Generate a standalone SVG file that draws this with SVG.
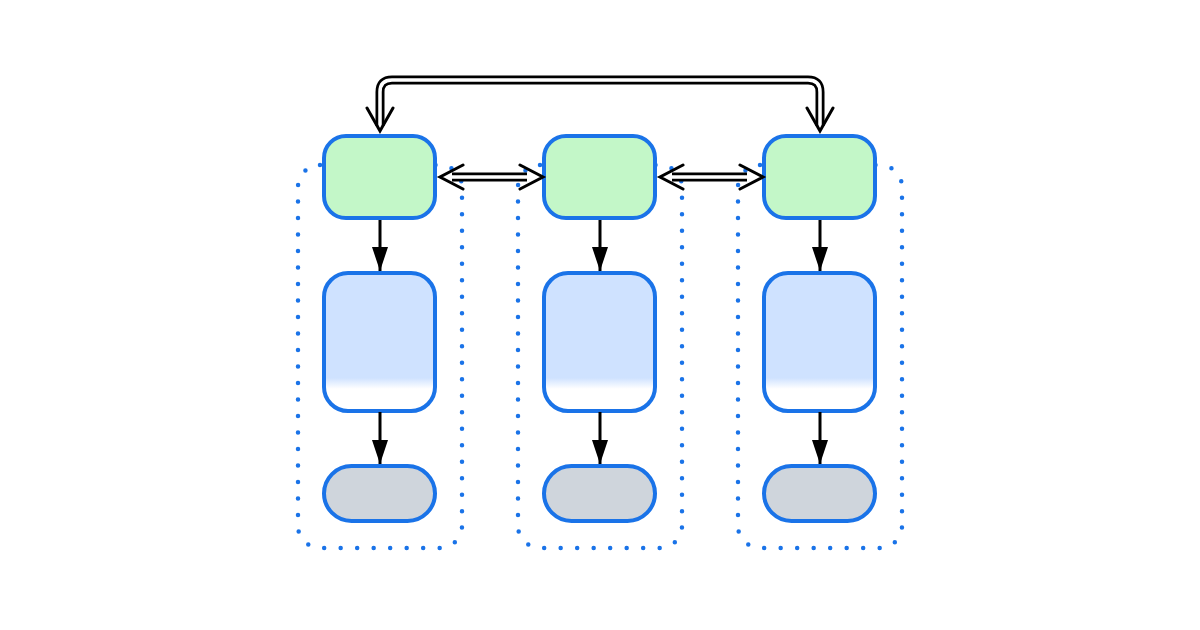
<svg xmlns="http://www.w3.org/2000/svg" width="1200" height="630" viewBox="0 0 1200 630">
<style>
.grp{fill:none;stroke:#1a73e8;stroke-width:4.5;stroke-linecap:round;stroke-dasharray:0 16.5}
.n{stroke:#1a73e8;stroke-width:4}
.top{fill:#c3f7c8}
.mid{fill:url(#g)}
.bot{fill:#cfd5dc}
.ar{stroke:#000;stroke-width:3;fill:none}
.dbo{stroke:#000;stroke-width:9;fill:none}
.dbi{stroke:#fff;stroke-width:3.5;fill:none}
.v{stroke:#000;stroke-width:3;fill:none;stroke-linecap:round}
</style>
<defs>
<linearGradient id="g" x1="0" y1="0" x2="0" y2="1">
<stop offset="0" stop-color="#cfe2ff"/><stop offset="0.76" stop-color="#cfe2ff"/><stop offset="0.84" stop-color="#fff"/><stop offset="1" stop-color="#fff"/>
</linearGradient>
<marker id="fa" viewBox="0 0 24 16" refX="24" refY="8" markerWidth="24" markerHeight="16" markerUnits="userSpaceOnUse" orient="auto">
<path d="M0,0L24,8L0,16z" fill="#000"/>
</marker>
</defs>
<g id="containers">
<rect class="grp" x="298" y="165" width="164" height="383" rx="22"/>
<rect class="grp" x="518" y="165" width="164" height="383" rx="22"/>
<rect class="grp" x="738" y="165" width="164" height="383" rx="22"/>
</g>
<g id="n1a"><rect class="n top" x="324" y="136" width="111" height="82" rx="22"/></g>
<g id="n2a"><rect class="n top" x="544" y="136" width="111" height="82" rx="22"/></g>
<g id="n3a"><rect class="n top" x="764" y="136" width="111" height="82" rx="22"/></g>
<g id="n1b"><rect class="n mid" x="324" y="273" width="111" height="138" rx="24"/></g>
<g id="n2b"><rect class="n mid" x="544" y="273" width="111" height="138" rx="24"/></g>
<g id="n3b"><rect class="n mid" x="764" y="273" width="111" height="138" rx="24"/></g>
<g id="n1c"><rect class="n bot" x="324" y="466" width="111" height="55" rx="27.5"/></g>
<g id="n2c"><rect class="n bot" x="544" y="466" width="111" height="55" rx="27.5"/></g>
<g id="n3c"><rect class="n bot" x="764" y="466" width="111" height="55" rx="27.5"/></g>
<g id="connectors">
<path class="dbo" d="M380,126V92Q380,80 392,80H808Q820,80 820,92V126"/>
<path class="dbi" d="M380,126V92Q380,80 392,80H808Q820,80 820,92V126"/>
<path class="v" d="M367,108L380,131L393,108M807,108L820,131L833,108"/>
<path class="dbo" d="M452,177H527M672,177H747"/>
<path class="dbi" d="M452,177H527M672,177H747"/>
<path class="v" d="M463,165L440,177L463,189M520,165L543,177L520,189M683,165L660,177L683,189M740,165L763,177L740,189"/>
<path class="ar" marker-end="url(#fa)" d="M380,220V271"/>
<path class="ar" marker-end="url(#fa)" d="M600,220V271"/>
<path class="ar" marker-end="url(#fa)" d="M820,220V271"/>
<path class="ar" marker-end="url(#fa)" d="M380,412V464"/>
<path class="ar" marker-end="url(#fa)" d="M600,412V464"/>
<path class="ar" marker-end="url(#fa)" d="M820,412V464"/>
</g>
</svg>
